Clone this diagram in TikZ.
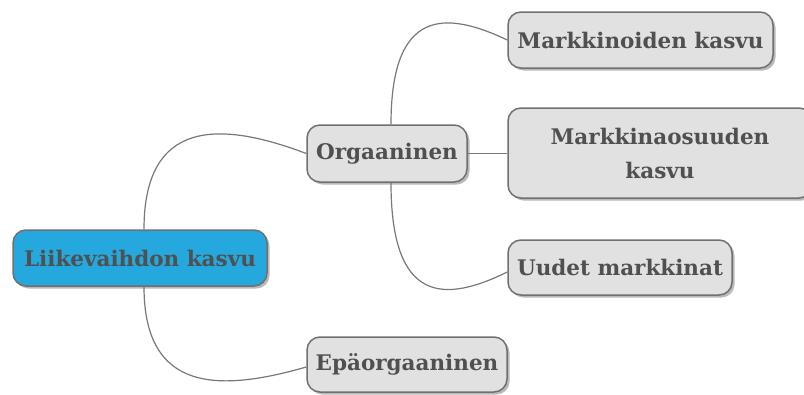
\documentclass[tikz,border=0pt]{standalone}
\usepackage{fontspec}
\setmainfont{DejaVu Serif}
\usetikzlibrary{shadows}
\definecolor{rootfill}{RGB}{36,168,222}
\definecolor{leaffill}{RGB}{225,225,225}
\definecolor{edgegray}{RGB}{112,112,112}
\definecolor{linkgray}{RGB}{120,120,120}
\definecolor{textgray}{RGB}{80,80,80}
\begin{document}
\begin{tikzpicture}[x=1pt,y=-1pt,
  topic/.style={draw=edgegray, line width=1.5pt, rounded corners=13pt,
    fill=leaffill, text=textgray, inner sep=0pt, align=center,
    font=\fontsize{21.5}{34}\selectfont\bfseries,
    drop shadow={shadow xshift=2.5pt, shadow yshift=-2.5pt, fill=black!55, opacity=0.5}},
  link/.style={draw=linkgray, line width=1.2pt}]
\useasboundingbox (0,0) rectangle (804,394);

\node[topic, fill=rootfill, minimum width=254pt, minimum height=56pt] (root) at (140,258) {Liikevaihdon kasvu};
\node[topic, minimum width=160pt, minimum height=57pt] (org) at (387,153.5) {Orgaaninen};
\node[topic, minimum width=200pt, minimum height=55pt] (ep) at (407,364.5) {Epäorgaaninen};
\node[topic, minimum width=265pt, minimum height=56pt] (mk) at (640.5,40) {Markkinoiden kasvu};
\node[topic, minimum width=304pt, minimum height=90pt] (mo) at (660,153) {Markkinaosuuden\\kasvu};
\node[topic, minimum width=224pt, minimum height=55pt] (um) at (620,267.5) {Uudet markkinat};

\draw[link] ([xshift=4pt]root.north) .. controls +(0,-110) and +(-87,-33) .. (org.west);
\draw[link] ([xshift=4pt]root.south) .. controls +(0,106) and +(-87,25) .. ([yshift=-2.5pt]ep.west);
\draw[link] ([xshift=4pt]org.north) .. controls +(0,-115) and +(-63,-30) .. (mk.west);
\draw[link] ([xshift=4pt]org.south) .. controls +(0,121) and +(-63,31) .. ([yshift=-4.5pt]um.west);
\draw[link] (org.east) -- (org.east -| mo.west);
\end{tikzpicture}
\end{document}
